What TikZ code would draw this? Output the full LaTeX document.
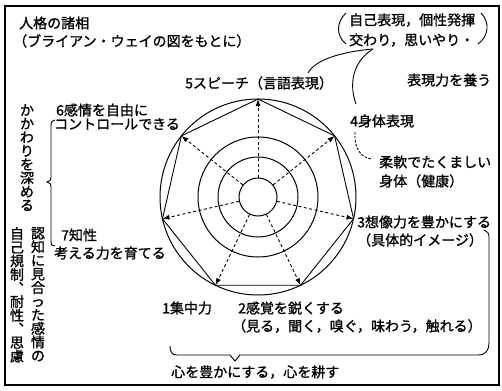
\documentclass[tikz,border=0pt]{standalone}
\usepackage{fontspec}
\newfontfamily\jp[FakeBold=1.2]{Noto Sans CJK JP}
\usetikzlibrary{arrows.meta,calc}
\newcommand{\myneglskip}{\lineskiplimit-20pt\relax}
\begin{document}
\begin{tikzpicture}[x=1pt,y=-1pt,
  lbl/.style={anchor=west,inner sep=0pt,font=\jp\fontsize{14}{16}\selectfont},
  vlbl/.style={anchor=north,inner sep=0pt,align=center,font=\jp\fontsize{14}{13.6}\selectfont\myneglskip},
  ring/.style={line width=1pt},
  spoke/.style={line width=0.9pt,dash pattern=on 3pt off 2.5pt,-{Latex[length=7pt,width=5pt]}},
  bracestroke/.style={line width=0.9pt},
  frame/.style={line width=1.1pt}]
\useasboundingbox (0,0) rectangle (502,390);
\draw[frame] (5,6) rectangle (499,385);

% title
\node[lbl] (title) at (19,23) {人格の諸相};
\node[lbl] (subtitle) at (13,41) {（ブライアン・ウェイの図をもとに）};

% chart
\coordinate (c) at (258,197);
\draw[ring] (c) circle[radius=98pt];
\draw[ring] (c) circle[radius=60pt];
\draw[ring] (c) circle[radius=40pt];
\node[draw,circle,ring,minimum size=38pt,inner sep=0pt] (core) at (c) {};
\foreach \i in {0,...,6}{
  \coordinate (v\i) at ($(c)+({90-\i*360/7}:98pt)$);
}
\draw[line width=0.9pt] (v0)--(v1)--(v2)--(v3)--(v4)--(v5)--(v6)--cycle;
\foreach \i in {0,...,6}{
  \draw[spoke] (core) -- (v\i);
}

% labels around chart
\node[lbl] (l5) at (185,83) {5スピーチ（言語表現）};
\node[lbl] (l4) at (350,121) {4身体表現};
\node[lbl] (l4a) at (379,162) {柔軟でたくましい};
\node[lbl] (l4b) at (379,181) {身体（健康）};
\node[lbl] (l3) at (357,222) {3想像力を豊かにする};
\node[lbl] (l3b) at (357,240) {（具体的イメージ）};
\node[lbl] (l6) at (56,110) {6感情を自由に};
\node[lbl] (l6b) at (54,124) {コントロールできる};
\node[lbl] (l7) at (61,235) {7知性};
\node[lbl] (l7b) at (54,253) {考える力を育てる};
\node[lbl] (l1) at (162,308) {1集中力};
\node[lbl] (l2) at (238,308) {2感覚を鋭くする};
\node[lbl] (l2b) at (232,326) {（見る，聞く，嗅ぐ，味わう，触れる）};
\node[lbl] (heart) at (171,372) {心を豊かにする，心を耕す};

% top right
\node[lbl] (tr1) at (349,20) {自己表現，個性発揮};
\node[lbl] (tr2) at (349,40) {交わり，思いやり・};
\node[lbl] (expr) at (407,80) {表現力を養う};
\draw[bracestroke] (346,13) .. controls (336,22) and (336,36) .. (346,44);
\draw[bracestroke] (481,13) .. controls (490,22) and (489,36) .. (478,44);
\coordinate (tip) at (373,49);
\draw[bracestroke] (tip) .. controls (340,52) and (315,60) .. (308,73);
\draw[bracestroke] (tip) .. controls (352,62) and (349,85) .. (356,104);
\draw[bracestroke,dash pattern=on 2.5pt off 1.5pt] (355,132) .. controls (354,150) and (362,158) .. (372,159);

% vertical texts
\node[vlbl] (deep) at (27,104) {か\\か\\わ\\り\\を\\深\\め\\る};
\node[vlbl] (vr) at (38,227) {認\\知\\に\\見\\合\\っ\\た\\感\\情\\の};
\node[vlbl] (vl) at (17,227) {自\\己\\規\\制\\︑\\耐\\性\\︑\\思\\慮};

% left brace
\draw[bracestroke] (55,120) .. controls (52,120) and (51,122) .. (51,126) -- (51,177)
  .. controls (51,180) .. (47,182) .. controls (51,184) .. (51,187) -- (51,241)
  .. controls (51,245) and (52,246) .. (55,246);

% bottom/right brace
\draw[bracestroke] (170,346) .. controls (170,352) and (172,355) .. (177,355) -- (230,355)
  -- (235,361) -- (240,355) -- (478,355) .. controls (486,355) and (489,350) .. (489,343)
  -- (489,237) .. controls (489,233) and (487,231) .. (484,230);
\end{tikzpicture}
\end{document}
